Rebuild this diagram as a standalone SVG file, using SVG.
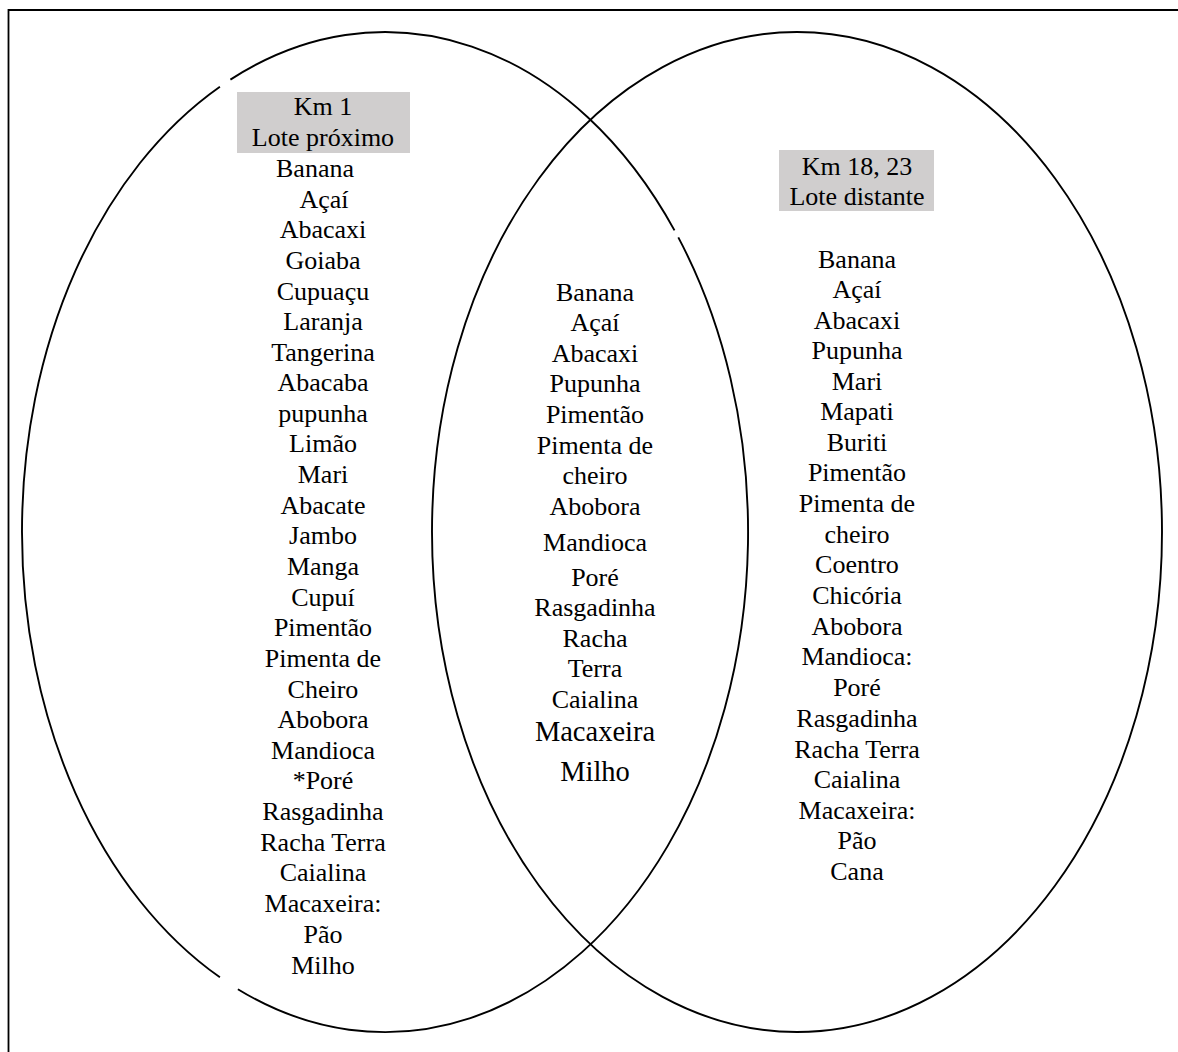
<svg xmlns="http://www.w3.org/2000/svg" width="1178" height="1052" viewBox="0 0 1178 1052">
<style>
.t{font-family:"Liberation Serif",serif;font-size:26px;fill:#000;text-anchor:middle}
.big{font-size:28.5px}
.ring{fill:none;stroke:#000;stroke-width:1.9}
.hdr{fill:#d0cece}
</style>
<rect x="0" y="0" width="1178" height="1052" fill="#fff"/>
<g id="frame">
<path d="M8.5 1060 V10 H1190" fill="none" stroke="#000" stroke-width="1.8"/>
</g>
<g id="set-left-ring">
<path class="ring" d="M230.4 79.6 A363 500 0 0 1 674.5 230.4 M678.3 237.4 A363 500 0 0 1 237.9 989.2 M219.9 977.3 A363 500 0 0 1 219.9 86.7"/>
</g>
<g id="set-right-ring">
<ellipse class="ring" cx="797" cy="532" rx="365" ry="500"/>
</g>
<g id="left-set" font-family="Liberation Serif, serif">
<rect class="hdr" x="237" y="92" width="173" height="61"/>
<text class="t" x="323" y="115">Km 1</text>
<text class="t" x="323" y="146">Lote próximo</text>
<text class="t" x="315" y="177">Banana</text>
<text class="t" x="324" y="208">Açaí</text>
<text class="t" x="323" y="238">Abacaxi</text>
<text class="t" x="323" y="269">Goiaba</text>
<text class="t" x="323" y="300">Cupuaçu</text>
<text class="t" x="323" y="330">Laranja</text>
<text class="t" x="323" y="361">Tangerina</text>
<text class="t" x="323" y="391">Abacaba</text>
<text class="t" x="323" y="422">pupunha</text>
<text class="t" x="323" y="452">Limão</text>
<text class="t" x="323" y="483">Mari</text>
<text class="t" x="323" y="514">Abacate</text>
<text class="t" x="323" y="544">Jambo</text>
<text class="t" x="323" y="575">Manga</text>
<text class="t" x="323" y="606">Cupuí</text>
<text class="t" x="323" y="636">Pimentão</text>
<text class="t" x="323" y="667">Pimenta de</text>
<text class="t" x="323" y="698">Cheiro</text>
<text class="t" x="323" y="728">Abobora</text>
<text class="t" x="323" y="759">Mandioca</text>
<text class="t" x="323" y="789">*Poré</text>
<text class="t" x="323" y="820">Rasgadinha</text>
<text class="t" x="323" y="851">Racha Terra</text>
<text class="t" x="323" y="881">Caialina</text>
<text class="t" x="323" y="912">Macaxeira:</text>
<text class="t" x="323" y="943">Pão</text>
<text class="t" x="323" y="974">Milho</text>
</g>
<g id="intersection" font-family="Liberation Serif, serif">
<text class="t" x="595" y="301">Banana</text>
<text class="t" x="595" y="331">Açaí</text>
<text class="t" x="595" y="362">Abacaxi</text>
<text class="t" x="595" y="392">Pupunha</text>
<text class="t" x="595" y="423">Pimentão</text>
<text class="t" x="595" y="454">Pimenta de</text>
<text class="t" x="595" y="484">cheiro</text>
<text class="t" x="595" y="515">Abobora</text>
<text class="t" x="595" y="551">Mandioca</text>
<text class="t" x="595" y="586">Poré</text>
<text class="t" x="595" y="616">Rasgadinha</text>
<text class="t" x="595" y="647">Racha</text>
<text class="t" x="595" y="677">Terra</text>
<text class="t" x="595" y="708">Caialina</text>
<text class="t big" x="595" y="741">Macaxeira</text>
<text class="t big" x="595" y="781">Milho</text>
</g>
<g id="right-set" font-family="Liberation Serif, serif">
<rect class="hdr" x="779" y="150" width="155" height="61"/>
<text class="t" x="857" y="175">Km 18, 23</text>
<text class="t" x="857" y="205">Lote distante</text>
<text class="t" x="857" y="268">Banana</text>
<text class="t" x="857" y="298">Açaí</text>
<text class="t" x="857" y="329">Abacaxi</text>
<text class="t" x="857" y="359">Pupunha</text>
<text class="t" x="857" y="390">Mari</text>
<text class="t" x="857" y="420">Mapati</text>
<text class="t" x="857" y="451">Buriti</text>
<text class="t" x="857" y="481">Pimentão</text>
<text class="t" x="857" y="512">Pimenta de</text>
<text class="t" x="857" y="543">cheiro</text>
<text class="t" x="857" y="573">Coentro</text>
<text class="t" x="857" y="604">Chicória</text>
<text class="t" x="857" y="635">Abobora</text>
<text class="t" x="857" y="665">Mandioca:</text>
<text class="t" x="857" y="696">Poré</text>
<text class="t" x="857" y="727">Rasgadinha</text>
<text class="t" x="857" y="758">Racha Terra</text>
<text class="t" x="857" y="788">Caialina</text>
<text class="t" x="857" y="819">Macaxeira:</text>
<text class="t" x="857" y="849">Pão</text>
<text class="t" x="857" y="880">Cana</text>
</g>
<g id="connectors"/>
</svg>
